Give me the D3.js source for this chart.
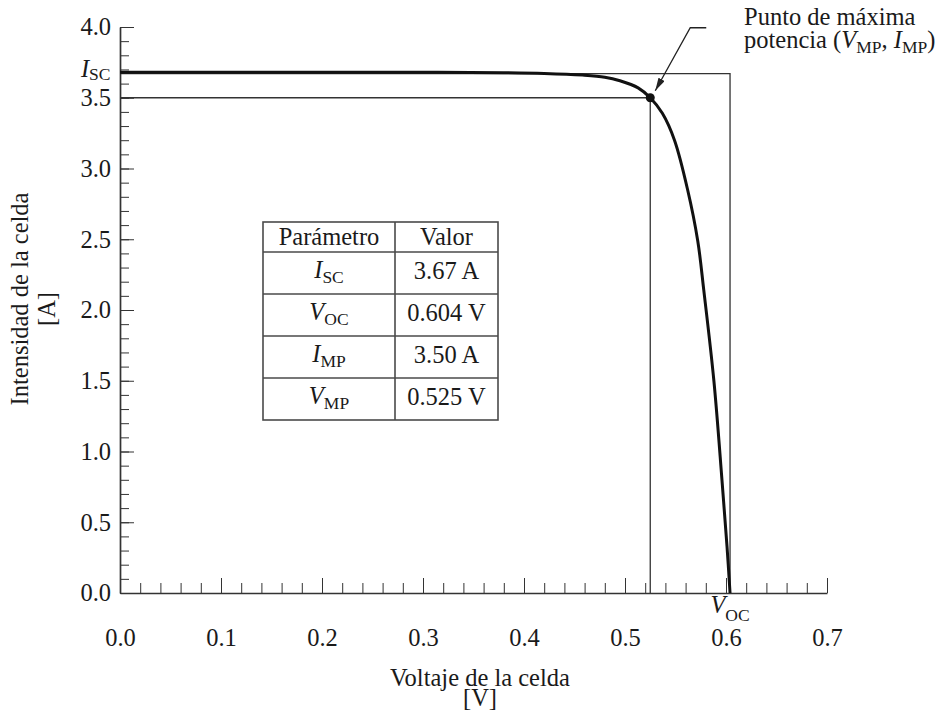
<!DOCTYPE html>
<html>
<head>
<meta charset="utf-8">
<script src="https://cdn.jsdelivr.net/npm/d3@7"></script>
<style>
  body { margin: 0; background: #fff; }
  text { font-family: "Liberation Serif", "Times New Roman", serif; font-size: 24.5px; fill: #1a1a1a; }
</style>
</head>
<body>
<div id="chart"></div>
<script>
/* Curve (V, A) */
const voltage = [0, 0.1, 0.2, 0.3, 0.38, 0.42, 0.458, 0.48, 0.495, 0.513, 0.525, 0.537, 0.549, 0.562, 0.572, 0.578, 0.588, 0.596, 0.601, 0.604];
const current = [3.68, 3.68, 3.68, 3.68, 3.677, 3.672, 3.66, 3.645, 3.62, 3.57, 3.50, 3.39, 3.20, 2.85, 2.49, 2.14, 1.50, 0.80, 0.33, 0];

/* Table of parameters */
const paramSymbols = ["I", "V", "I", "V"];
const paramSubs = ["SC", "OC", "MP", "MP"];
const paramValues = [3.67, 0.604, 3.50, 0.525];
const paramLabels = ["3.67 A", "0.604 V", "3.50 A", "0.525 V"];

/* Axis ticks */
const xTicks = [0, 0.1, 0.2, 0.3, 0.4, 0.5, 0.6, 0.7];
const xTickLabels = ["0.0", "0.1", "0.2", "0.3", "0.4", "0.5", "0.6", "0.7"];
const yTicks = [0, 0.5, 1, 1.5, 2, 2.5, 3, 3.5, 4];
const yTickLabels = ["0.0", "0.5", "1.0", "1.5", "2.0", "2.5", "3.0", "3.5", "4.0"];

let isc = paramValues[0], voc = paramValues[1], imp = paramValues[2], vmp = paramValues[3];

let width = 936;
let height = 712;
let lineColor = "#333";

let svg = d3.select("#chart")
  .append("svg")
  .attr("width", width)
  .attr("height", height);

/* Scales */
let x = d3.scaleLinear().domain([0, 0.7]).range([120, 827]);
let y = d3.scaleLinear().domain([0, 4]).range([593, 27]);

/* text with italic letter + subscript */
function richText(g, px, py, parts, anchor, shift) {
  let t = g.append("text")
    .attr("x", px)
    .attr("y", py)
    .attr("text-anchor", anchor);
  let cur = 0;
  parts.forEach(p => {
    let target = p[1] == "sub" ? shift : 0;
    let ts = t.append("tspan").attr("dy", target - cur).text(p[0]);
    if (p[1] == "it") ts.style("font-style", "italic");
    if (p[1] == "sub") ts.style("font-size", "17.5px");
    cur = target;
  });
  return t;
}

/* Axes */
let xMinor = d3.range(0, 36).map(i => i * 0.02);
let yMinor = d3.range(0, 41).map(i => i * 0.1);

svg.append("g")
  .attr("transform", `translate(0, ${y(0)})`)
  .style("color", lineColor)
  .call(d3.axisBottom(x).tickValues(xMinor).tickSize(-10).tickSizeOuter(0).tickFormat(""))
  .call(g => g.select(".domain").attr("stroke-width", 1.7));

svg.append("g")
  .attr("transform", `translate(0, ${y(0)})`)
  .style("color", lineColor)
  .call(d3.axisBottom(x).tickValues(xTicks).tickSize(-15).tickFormat(""))
  .call(g => g.select(".domain").remove());

svg.append("g")
  .attr("transform", `translate(0, ${y(0)})`)
  .call(d3.axisBottom(x).tickValues(xTicks).tickSize(0).tickPadding(36).tickFormat((d, i) => xTickLabels[i]))
  .call(g => g.select(".domain").remove());

svg.append("g")
  .attr("transform", `translate(${x(0)}, 0)`)
  .style("color", lineColor)
  .call(d3.axisLeft(y).tickValues(yMinor).tickSize(-9).tickSizeOuter(0).tickFormat(""))
  .call(g => g.select(".domain").attr("stroke-width", 1.7));

svg.append("g")
  .attr("transform", `translate(${x(0)}, 0)`)
  .style("color", lineColor)
  .call(d3.axisLeft(y).tickValues(yTicks).tickSize(-14).tickFormat(""))
  .call(g => g.select(".domain").remove());

svg.append("g")
  .attr("transform", `translate(${x(0)}, 0)`)
  .call(d3.axisLeft(y).tickValues(yTicks).tickSize(0).tickPadding(9).tickFormat((d, i) => yTickLabels[i]))
  .call(g => g.select(".domain").remove());

/* I_SC and V_OC labels on the axes */
richText(svg, 110.5, y(isc) + 3, [["I", "it"], ["SC", "sub"]], "end", 3);
richText(svg, x(voc), 613, [["V", "it"], ["OC", "sub"]], "middle", 8);

/* Reference lines */
let refs = svg.append("g")
  .attr("fill", "none")
  .attr("stroke", lineColor)
  .attr("stroke-width", 1.3);

refs.append("path")
  .attr("d", `M${x(0)},${y(isc)}H${x(voc)}V${y(0)}`);
refs.append("path")
  .attr("d", `M${x(0)},${y(imp)}H${x(vmp)}V${y(0)}`);

/* I-V curve */
let line = d3.line()
  .x((d, i) => x(voltage[i]))
  .y(d => y(d))
  .curve(d3.curveCatmullRom.alpha(0.5));

svg.append("path")
  .attr("d", line(current))
  .attr("fill", "none")
  .attr("stroke", "#111")
  .attr("stroke-width", 3);

svg.append("circle")
  .attr("cx", x(vmp))
  .attr("cy", y(imp))
  .attr("r", 4.5)
  .attr("fill", "#111");

/* Annotation arrow */
svg.append("defs")
  .append("marker")
  .attr("id", "arrow")
  .attr("markerUnits", "userSpaceOnUse")
  .attr("markerWidth", 13)
  .attr("markerHeight", 7)
  .attr("refX", 13)
  .attr("refY", 3.5)
  .attr("orient", "auto")
  .append("path")
  .attr("d", "M0,0L13,3.5L0,7Z")
  .attr("fill", "#222");

let tipX = x(vmp) + 5, tipY = y(imp) - 7;
svg.append("path")
  .attr("d", `M${tipX + 51},${tipY - 63}H${tipX + 35}L${tipX},${tipY}`)
  .attr("fill", "none")
  .attr("stroke", "#222")
  .attr("stroke-width", 1.3)
  .attr("marker-end", "url(#arrow)");

svg.append("text")
  .attr("x", 744)
  .attr("y", 25)
  .text("Punto de máxima");

richText(svg, 744, 48, [["potencia (", ""], ["V", "it"], ["MP", "sub"], [", ", ""], ["I", "it"], ["MP", "sub"], [")", ""]], "start", 5);

/* Axis titles */
svg.append("text")
  .attr("x", 480)
  .attr("y", 686)
  .attr("text-anchor", "middle")
  .text("Voltaje de la celda");
svg.append("text")
  .attr("x", 480)
  .attr("y", 706)
  .attr("text-anchor", "middle")
  .text("[V]");

svg.append("text")
  .attr("transform", "translate(28, 299) rotate(-90)")
  .attr("text-anchor", "middle")
  .text("Intensidad de la celda");
svg.append("text")
  .attr("transform", "translate(55, 309) rotate(-90)")
  .attr("text-anchor", "middle")
  .text("[A]");

/* Parameter table */
let tx0 = 263, tx1 = 395, tx2 = 498;
let ty0 = 222, headH = 30, rowH = 42;
let tyEnd = ty0 + headH + rowH * paramSymbols.length;

let table = svg.append("g");
let grid = table.append("g")
  .attr("fill", "none")
  .attr("stroke", "#4a4a4a")
  .attr("stroke-width", 1.6);

grid.append("rect")
  .attr("x", tx0).attr("y", ty0)
  .attr("width", tx2 - tx0).attr("height", tyEnd - ty0);
grid.append("line")
  .attr("x1", tx1).attr("x2", tx1)
  .attr("y1", ty0).attr("y2", tyEnd);
paramSymbols.forEach((s, i) => {
  let yy = ty0 + headH + rowH * i;
  grid.append("line")
    .attr("x1", tx0).attr("x2", tx2)
    .attr("y1", yy).attr("y2", yy);
});

table.append("text")
  .attr("x", (tx0 + tx1) / 2)
  .attr("y", ty0 + 23)
  .attr("text-anchor", "middle")
  .text("Parámetro");
table.append("text")
  .attr("x", (tx1 + tx2) / 2)
  .attr("y", ty0 + 23)
  .attr("text-anchor", "middle")
  .text("Valor");

paramSymbols.forEach((s, i) => {
  let yy = ty0 + headH + rowH * i + rowH / 2 + 6;
  richText(table, (tx0 + tx1) / 2, yy - 1, [[s, "it"], [paramSubs[i], "sub"]], "middle", 5);
  table.append("text")
    .attr("x", (tx1 + tx2) / 2)
    .attr("y", yy)
    .attr("text-anchor", "middle")
    .text(paramLabels[i]);
});
</script>
</body>
</html>
